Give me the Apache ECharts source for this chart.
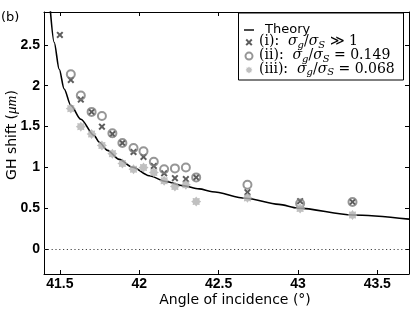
<!DOCTYPE html>
<html>
<head>
<meta charset="utf-8">
<script src="https://cdn.jsdelivr.net/npm/echarts@6/dist/echarts.min.js"></script>
<style>
html,body{margin:0;padding:0;background:#fff;}
#chart{width:415px;height:311px;}
</style>
</head>
<body>
<div id="chart"></div>
<script>
// ---- data ----
const angles   = [41.50, 41.569, 41.632, 41.700, 41.765, 41.831, 41.894, 41.964, 42.027, 42.092, 42.157, 42.225, 42.294, 42.359, 42.682, 43.014, 43.344];
const shiftI   = [2.62, 2.07, 1.83, 1.68, 1.50, 1.41, 1.30, 1.19, 1.13, 1.02, 0.93, 0.87, 0.86, 0.88, 0.70, 0.59, 0.58];
const shiftII  = [null, 2.14, 1.88, 1.68, 1.63, 1.42, 1.30, 1.24, 1.20, 1.07, 0.98, 0.99, 1.00, 0.88, 0.79, 0.56, 0.58];
const shiftIII = [null, 1.72, 1.50, 1.41, 1.27, 1.17, 1.05, 0.98, 1.00, 0.94, 0.84, 0.77, 0.79, 0.585, 0.63, 0.50, 0.42];

const theoryAngle = [41.44, 41.464, 41.496, 41.527, 41.569, 41.632, 41.716, 41.748, 41.80, 41.874, 41.957, 42.063, 42.168, 42.273, 42.378, 42.46, 42.67, 42.88, 43.0, 43.344, 43.7];
const theoryShift = [2.92, 2.53, 2.20, 1.96, 1.76, 1.59, 1.39, 1.31, 1.21, 1.10, 1.005, 0.90, 0.83, 0.78, 0.74, 0.705, 0.625, 0.55, 0.505, 0.42, 0.37];

const xTicks = [41.5, 42, 42.5, 43, 43.5];
const yTicks = [0, 0.5, 1, 1.5, 2, 2.5];

const seriesNames = ['Theory', '(i): σg/σS ≫ 1', '(ii): σg/σS = 0.149', '(iii): σg/σS = 0.068'];
const legendRich = {
  'Theory': '{t|Theory}',
  '(i): σg/σS ≫ 1': '{r|(i):  }{s|σ}{sub|g}{r|/}{s|σ}{sub|S}{r| ≫ 1}',
  '(ii): σg/σS = 0.149': '{r|(ii):  }{s|σ}{sub|g}{r|/}{s|σ}{sub|S}{r| = 0.149}',
  '(iii): σg/σS = 0.068': '{r|(iii):  }{s|σ}{sub|g}{r|/}{s|σ}{sub|S}{r| = 0.068}'
};

function pairs(xs, ys) {
  const out = [];
  for (let i = 0; i < xs.length; i++) if (ys[i] !== null) out.push([xs[i], ys[i]]);
  return out;
}

const crossPath = 'path://M0,4 L4,0 L10,6 L16,0 L20,4 L14,10 L20,16 L16,20 L10,14 L4,20 L0,16 L6,10 Z';
const starPath = 'path://M20,10 L16.47,12.68 L17.07,17.07 L12.68,16.47 L10,20 L7.32,16.47 L2.93,17.07 L3.53,12.68 L0,10 L3.53,7.32 L2.93,2.93 L7.32,3.53 L10,0 L12.68,3.53 L17.07,2.93 L16.47,7.32 Z';

const tickFont = {fontFamily: 'Liberation Sans', fontWeight: 'bold', fontSize: 14, color: '#000'};

const chart = echarts.init(document.getElementById('chart'), null, {renderer: 'canvas'});
chart.setOption({
  animation: false,
  backgroundColor: '#fff',
  grid: {left: 44, right: 6, top: 12, bottom: 37, containLabel: false},
  xAxis: [{
    type: 'value', min: 41.4, max: 43.7, position: 'bottom',
    axisLine: {show: true, onZero: false, lineStyle: {color: '#000', width: 1}},
    axisTick: {show: true, inside: true, length: 4, customValues: xTicks, lineStyle: {color: '#000'}},
    axisLabel: Object.assign({show: true, margin: 3, customValues: xTicks, formatter: v => String(v)}, tickFont),
    splitLine: {show: false}
  }, {
    type: 'value', min: 41.4, max: 43.7, position: 'top',
    axisLine: {show: true, onZero: false, lineStyle: {color: '#000', width: 1}},
    axisTick: {show: true, inside: true, length: 4, customValues: xTicks, lineStyle: {color: '#000'}},
    axisLabel: {show: false},
    splitLine: {show: false}
  }],
  yAxis: [{
    type: 'value', min: -0.3, max: 2.9, position: 'left',
    axisLine: {show: true, onZero: false, lineStyle: {color: '#000', width: 1}},
    axisTick: {show: true, inside: true, length: 4, customValues: yTicks, lineStyle: {color: '#000'}},
    axisLabel: Object.assign({show: true, margin: 4, customValues: yTicks, formatter: v => String(v)}, tickFont),
    splitLine: {show: false}
  }, {
    type: 'value', min: -0.3, max: 2.9, position: 'right',
    axisLine: {show: true, onZero: false, lineStyle: {color: '#000', width: 1}},
    axisTick: {show: true, inside: true, length: 4, customValues: yTicks, lineStyle: {color: '#000'}},
    axisLabel: {show: false},
    splitLine: {show: false}
  }],
  legend: {
    orient: 'vertical',
    left: 244, top: 23.5,
    padding: 0,
    itemGap: -2.2,
    itemWidth: 10, itemHeight: 7,
    z: 20,
    data: [
      {name: seriesNames[0], icon: 'path://M0,0 L24,0 L24,3.4 L0,3.4 Z', itemStyle: {color: '#000'}},
      {name: seriesNames[1]},
      {name: seriesNames[2]},
      {name: seriesNames[3]}
    ],
    formatter: name => legendRich[name],
    textStyle: {
      color: '#000',
      rich: {
        t: {fontFamily: 'DejaVu Sans', fontSize: 13, lineHeight: 16, padding: [0, 0, 0, 6], color: '#000'},
        r: {fontFamily: 'DejaVu Serif', fontSize: 14, lineHeight: 16, verticalAlign: 'top', color: '#000'},
        s: {fontFamily: 'DejaVu Serif', fontStyle: 'italic', fontSize: 14, lineHeight: 16, verticalAlign: 'top', color: '#000'},
        sub: {fontFamily: 'DejaVu Serif', fontStyle: 'italic', fontSize: 10, lineHeight: 16, verticalAlign: 'bottom', color: '#000'}
      }
    }
  },
  graphic: [
    {type: 'rect', left: 238, top: 12.5, z: 10,
      shape: {width: 165, height: 67},
      style: {fill: '#fff', stroke: '#000', lineWidth: 1}},
    {type: 'text', left: 1, top: 11, style: {text: '(b)', font: '13px "DejaVu Sans"', fill: '#000'}},
    {type: 'text', x: 235, y: 300, style: {text: 'Angle of incidence (°)', font: '14px "DejaVu Sans"', fill: '#000', align: 'center', verticalAlign: 'middle'}},
    {type: 'text', x: 12, y: 135, rotation: Math.PI / 2,
      style: {
        text: '{a|GH shift (}{m|μm}{a|)}', align: 'center', verticalAlign: 'middle',
        rich: {
          a: {fontFamily: 'DejaVu Sans', fontSize: 14, fill: '#000'},
          m: {fontFamily: 'Liberation Serif', fontStyle: 'italic', fontSize: 15, fill: '#000'}
        }
      }}
  ],
  series: [{
    name: seriesNames[0], type: 'line',
    data: pairs(theoryAngle, theoryShift),
    showSymbol: false, symbol: 'none',
    smooth: 0.3, smoothMonotone: 'x', clip: true,
    lineStyle: {color: '#000', width: 1.6},
    itemStyle: {color: '#000'},
    z: 3,
    markLine: {
      silent: true, symbol: 'none', label: {show: false},
      lineStyle: {color: '#444', type: [1.2, 2.6], width: 1},
      data: [{yAxis: 0}]
    }
  }, {
    name: seriesNames[1], type: 'scatter',
    data: pairs(angles, shiftI),
    symbol: crossPath, symbolSize: 7,
    itemStyle: {color: '#333333'}, z: 4
  }, {
    name: seriesNames[2], type: 'scatter',
    data: pairs(angles, shiftII),
    symbol: 'circle', symbolSize: 8,
    itemStyle: {color: 'rgba(0,0,0,0)', borderColor: '#7c7c7c', borderWidth: 2}, z: 5
  }, {
    name: seriesNames[3], type: 'scatter',
    data: pairs(angles, shiftIII),
    symbol: starPath, symbolSize: 10,
    itemStyle: {color: '#b0b0b0'}, z: 6
  }]
});
</script>
</body>
</html>
